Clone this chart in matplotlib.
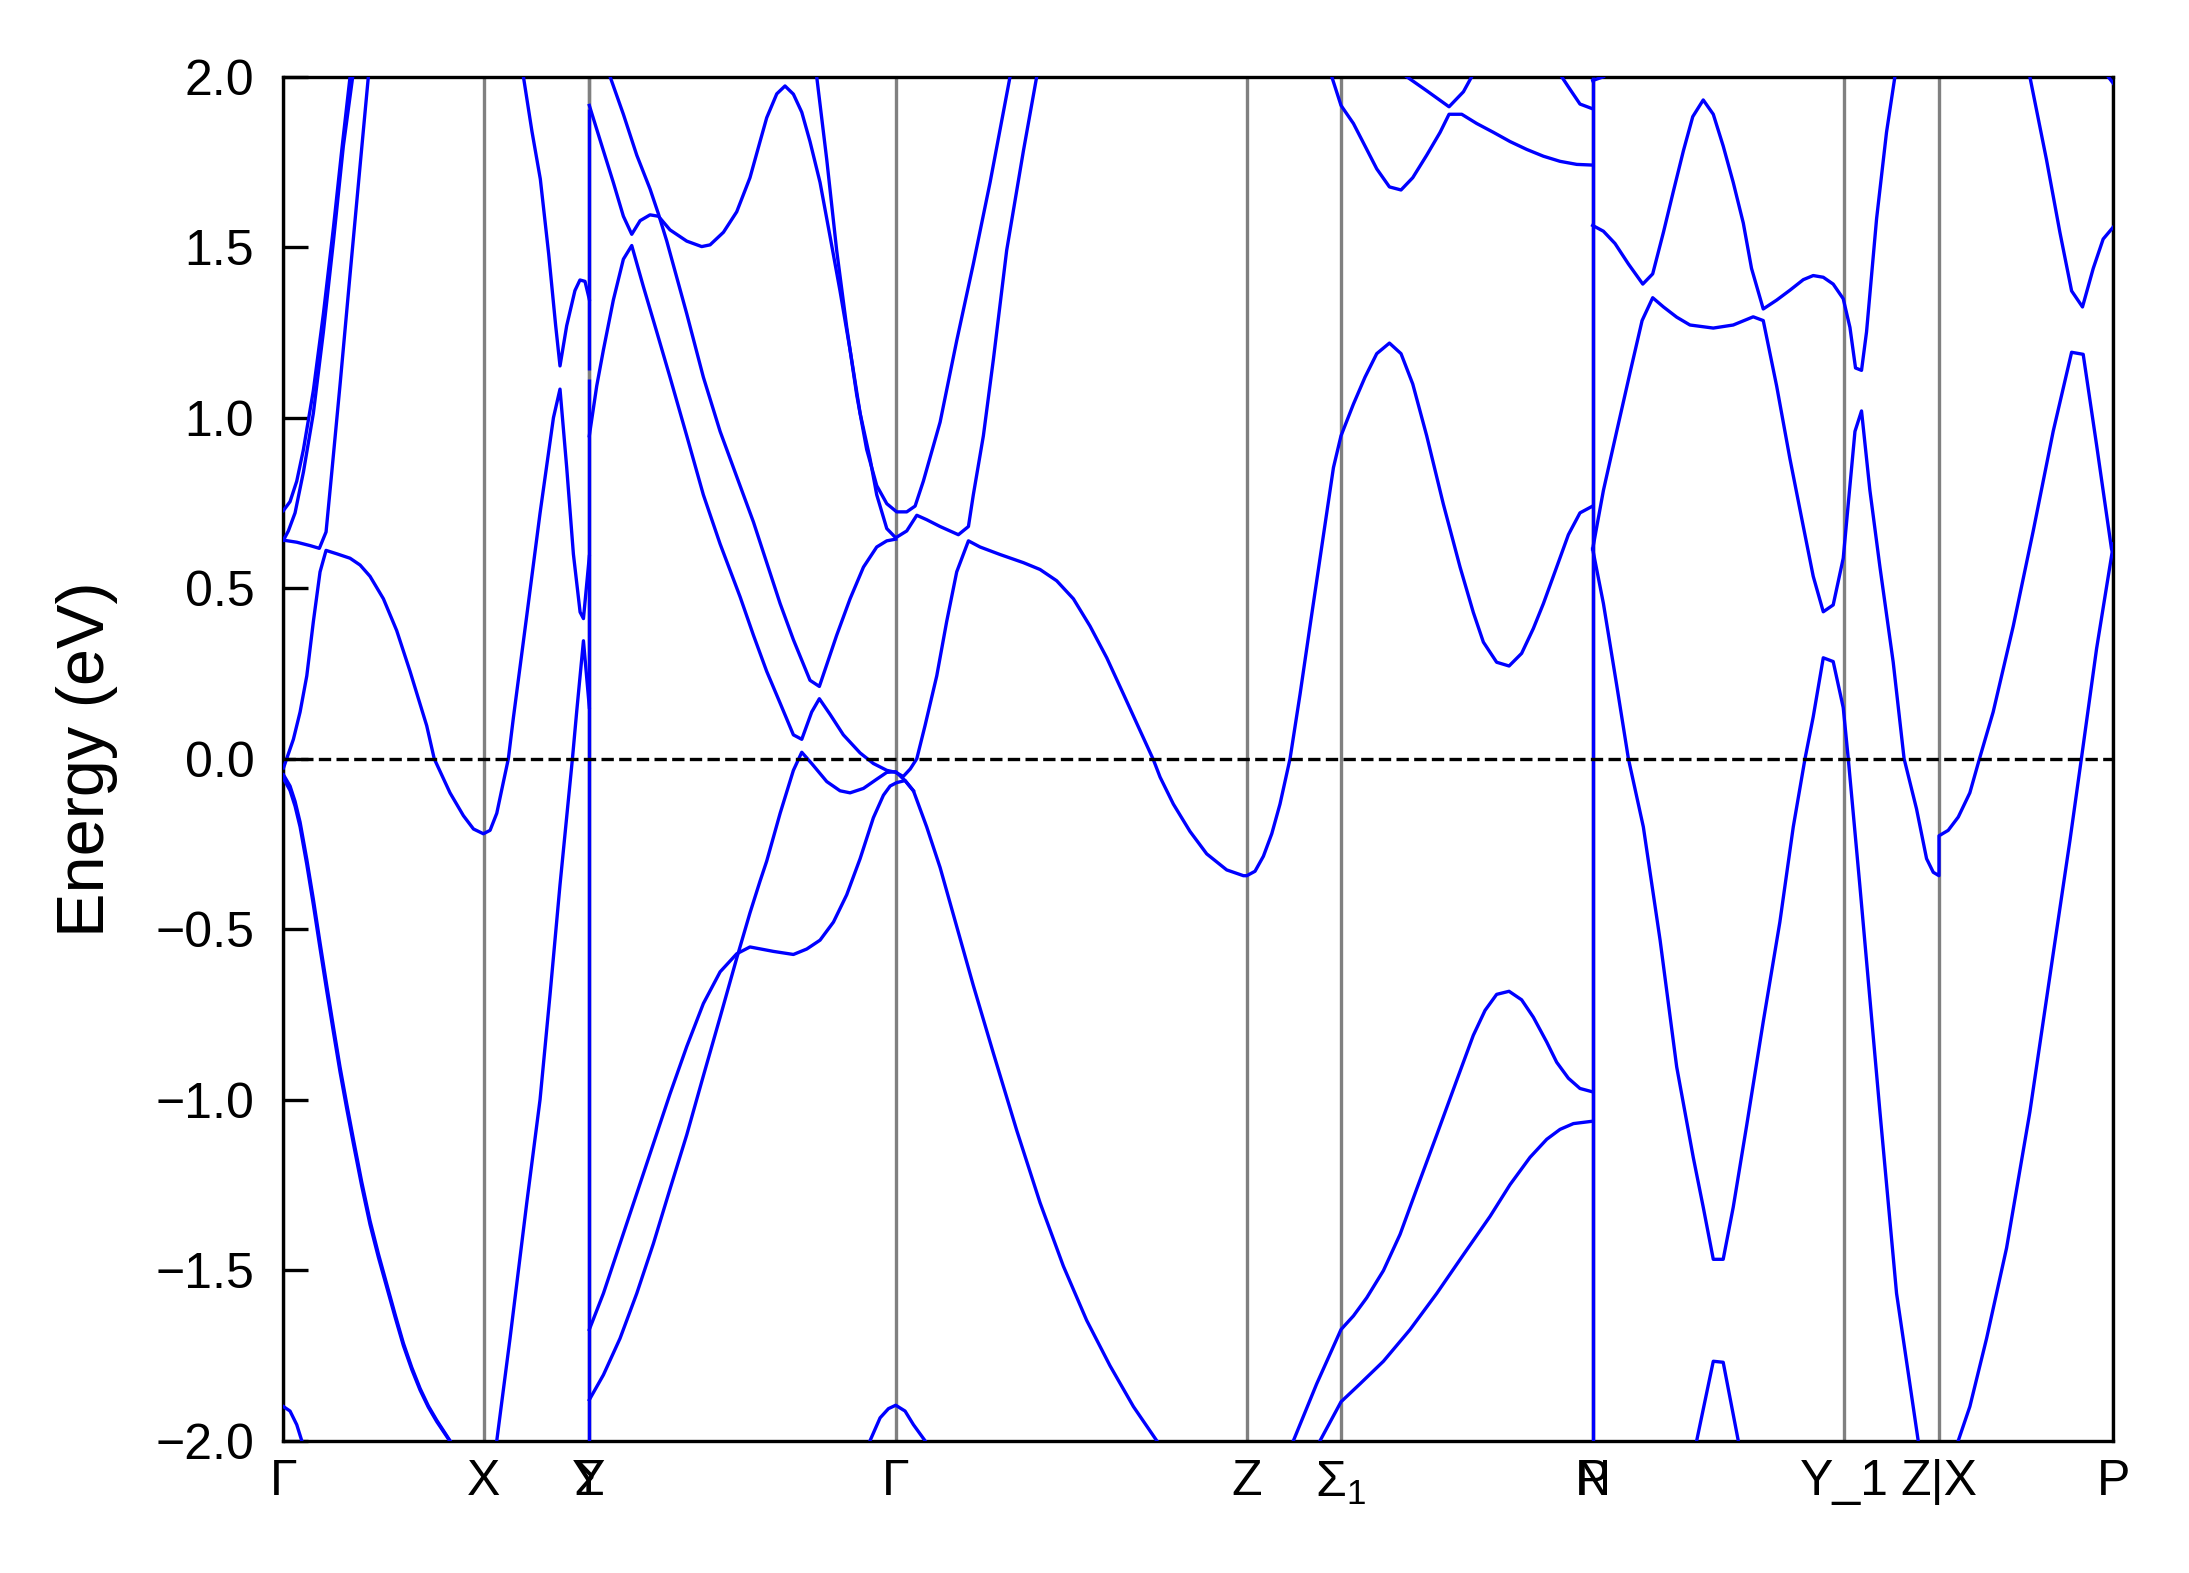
import matplotlib.pyplot as plt

plt.rcParams['font.family'] = ['Liberation Sans', 'DejaVu Sans']
plt.rcParams['mathtext.fontset'] = 'custom'
plt.rcParams['mathtext.rm'] = 'Liberation Sans'
plt.rcParams['mathtext.it'] = 'Liberation Sans:italic'

# high-symmetry points along the k-path (Y/Σ and N/P sit on the same spot)
kpoint_pos = [0.0, 0.1435, 0.2189, 0.219, 0.4386, 0.690, 0.7576, 0.9379, 0.938, 1.118, 1.186, 1.311]
kpoint_labels = ['Γ', 'X', 'Y', 'Σ', 'Γ', 'Z', 'Σ$_1$', 'N', 'P', 'Y_1', 'Z|X', 'P']

# band jumps where the path is broken (Y|Σ and N|P)
jump_k = [0.219, 0.219, 0.938]
jump_lo = [-2.0, 1.139, -2.0]
jump_hi = [1.115, 1.906, 2.0]

# bands, (k, E) pairs
band_01 = [(0.0, 0.728), (0.0047, 0.754), (0.0095, 0.814), (0.0143, 0.907), (0.0214, 1.080),
           (0.0286, 1.305), (0.0358, 1.558), (0.0417, 1.783), (0.0477, 2.0)]
band_02 = [(0.0, 0.641), (0.0035, 0.668), (0.0083, 0.721), (0.0143, 0.841), (0.0214, 1.013),
           (0.0286, 1.252), (0.0358, 1.518), (0.0429, 1.797), (0.0496, 2.0)]
band_03 = [(0.0, 0.641), (0.0095, 0.635), (0.0191, 0.625), (0.0257, 0.617), (0.0305, 0.665),
           (0.0346, 0.84), (0.0406, 1.10), (0.0477, 1.42), (0.0549, 1.74), (0.0608, 2.0)]
band_04 = [(0.0, -0.027), (0.0023, 0.0), (0.0071, 0.057), (0.0119, 0.137), (0.0167, 0.243),
           (0.0214, 0.402), (0.0262, 0.548), (0.0305, 0.611), (0.0382, 0.601), (0.0477, 0.588),
           (0.0549, 0.568), (0.0620, 0.535), (0.0716, 0.469), (0.0811, 0.376), (0.0907, 0.256),
           (0.1026, 0.097), (0.1080, 0.0), (0.1193, -0.100), (0.1289, -0.167), (0.1361, -0.206),
           (0.1432, -0.220), (0.1480, -0.210), (0.1528, -0.160), (0.1576, -0.067), (0.1611, 0.0),
           (0.1647, 0.12), (0.1743, 0.42), (0.1838, 0.72), (0.1934, 1.00), (0.1981, 1.084),
           (0.2029, 0.854), (0.2077, 0.60), (0.2125, 0.43), (0.2149, 0.411), (0.2191, 0.593)]
band_05 = [(0.0, -0.047), (0.0047, -0.080), (0.0083, -0.125), (0.0119, -0.186), (0.0167, -0.295),
           (0.0214, -0.412), (0.0262, -0.540), (0.0310, -0.665), (0.0358, -0.787), (0.0405, -0.904),
           (0.0453, -1.012), (0.0501, -1.116), (0.0560, -1.240), (0.0620, -1.355), (0.0680, -1.452),
           (0.0740, -1.541), (0.0800, -1.630), (0.0859, -1.714), (0.0919, -1.785), (0.0979, -1.847),
           (0.1038, -1.898), (0.1098, -1.940), (0.1193, -2.0)]
band_06 = [(0.0, -0.058), (0.0047, -0.093), (0.0083, -0.139), (0.0119, -0.200), (0.0167, -0.310),
           (0.0214, -0.428), (0.0262, -0.556), (0.0310, -0.681), (0.0358, -0.802), (0.0405, -0.918),
           (0.0453, -1.026), (0.0501, -1.129), (0.0560, -1.252), (0.0620, -1.366), (0.0680, -1.462),
           (0.0740, -1.550), (0.0800, -1.638), (0.0859, -1.721), (0.0919, -1.791), (0.0979, -1.852),
           (0.1038, -1.902), (0.1098, -1.944), (0.1190, -2.0)]
band_07 = [(0.0, -1.900), (0.0047, -1.913), (0.0095, -1.953), (0.0131, -2.0)]
band_08 = [(0.1719, 2.0), (0.1780, 1.84), (0.1840, 1.70), (0.1900, 1.48), (0.1950, 1.27),
           (0.1981, 1.152), (0.2029, 1.27), (0.2088, 1.373), (0.2124, 1.404), (0.2160, 1.40),
           (0.2191, 1.347)]
band_09 = [(0.1528, -2.0), (0.1623, -1.700), (0.1743, -1.302), (0.1838, -1.0), (0.1910, -0.69),
           (0.1981, -0.37), (0.2070, 0.0), (0.2101, 0.14), (0.2149, 0.346), (0.2191, 0.151)]
band_10 = [(0.2191, 1.916), (0.2292, 1.783), (0.2363, 1.690), (0.2435, 1.591), (0.2495, 1.538),
           (0.2555, 1.578), (0.2626, 1.595), (0.2686, 1.591), (0.2769, 1.551), (0.2889, 1.518),
           (0.2996, 1.502), (0.3056, 1.507), (0.3152, 1.544), (0.3247, 1.604), (0.3342, 1.704),
           (0.3414, 1.810), (0.3462, 1.880), (0.3534, 1.950), (0.3593, 1.973), (0.3653, 1.949),
           (0.3713, 1.896), (0.3772, 1.810), (0.3844, 1.690), (0.3916, 1.531), (0.3987, 1.372),
           (0.4059, 1.199), (0.4131, 1.013), (0.4202, 0.880), (0.4250, 0.774), (0.4322, 0.675),
           (0.4386, 0.648), (0.4465, 0.668), (0.4537, 0.714), (0.4608, 0.701), (0.4704, 0.681),
           (0.4835, 0.657), (0.4907, 0.681), (0.4942, 0.774), (0.5014, 0.947), (0.5086, 1.172),
           (0.5181, 1.491), (0.5301, 1.783), (0.5396, 2.0)]
band_11 = [(0.2340, 2.0), (0.2435, 1.890), (0.2531, 1.770), (0.2626, 1.671), (0.2686, 1.598),
           (0.2746, 1.518), (0.2889, 1.305), (0.3008, 1.119), (0.3128, 0.960), (0.3259, 0.814),
           (0.3367, 0.694), (0.3462, 0.575), (0.3558, 0.455), (0.3653, 0.349), (0.3772, 0.230),
           (0.3839, 0.212), (0.3892, 0.276), (0.3963, 0.362), (0.4059, 0.469), (0.4155, 0.562),
           (0.4250, 0.621), (0.4322, 0.639), (0.4386, 0.644)]
band_12 = [(0.3820, 2.0), (0.3892, 1.757), (0.3963, 1.491), (0.4035, 1.266), (0.4107, 1.066),
           (0.4178, 0.907), (0.4250, 0.801), (0.4322, 0.748), (0.4393, 0.724), (0.4465, 0.724),
           (0.4525, 0.741), (0.4584, 0.814), (0.4704, 0.987), (0.4823, 1.226), (0.4942, 1.451),
           (0.5062, 1.690), (0.5205, 2.0)]
band_13 = [(0.2191, 0.947), (0.2244, 1.093), (0.2292, 1.199), (0.2363, 1.345), (0.2435, 1.465),
           (0.2495, 1.505), (0.2578, 1.385), (0.2674, 1.252), (0.2769, 1.119), (0.2889, 0.947),
           (0.3008, 0.774), (0.3128, 0.630), (0.3271, 0.475), (0.3367, 0.362), (0.3462, 0.256),
           (0.3558, 0.163), (0.3653, 0.070), (0.3713, 0.057), (0.3784, 0.137), (0.3839, 0.176),
           (0.3916, 0.130), (0.4011, 0.070), (0.4131, 0.017), (0.4226, -0.014), (0.4322, -0.034),
           (0.4386, -0.040), (0.4440, -0.052), (0.4490, -0.030), (0.4537, 0.0), (0.4596, 0.097),
           (0.4680, 0.243), (0.4751, 0.402), (0.4823, 0.548), (0.4907, 0.639), (0.4990, 0.621),
           (0.5133, 0.599), (0.5301, 0.575), (0.5420, 0.555), (0.5539, 0.522), (0.5659, 0.469),
           (0.5778, 0.389), (0.5898, 0.296), (0.6017, 0.190), (0.6136, 0.083), (0.6232, -0.003),
           (0.6280, -0.054), (0.6375, -0.133), (0.6494, -0.213), (0.6614, -0.279), (0.6757, -0.326),
           (0.6877, -0.343), (0.6901, -0.343), (0.6960, -0.330), (0.7020, -0.286), (0.7080, -0.220),
           (0.7139, -0.133), (0.7211, 0.0), (0.7283, 0.190), (0.7354, 0.389), (0.7450, 0.655),
           (0.7522, 0.854), (0.7576, 0.947), (0.7665, 1.040), (0.7748, 1.119), (0.7832, 1.188),
           (0.7923, 1.219), (0.8006, 1.188), (0.8090, 1.099), (0.8190, 0.947), (0.8309, 0.747),
           (0.8429, 0.562), (0.8524, 0.429), (0.8596, 0.342), (0.8691, 0.283), (0.8780, 0.272),
           (0.8870, 0.309), (0.8954, 0.382), (0.9026, 0.455), (0.9121, 0.562), (0.9205, 0.657),
           (0.9288, 0.721), (0.9379, 0.741)]
band_14 = [(0.2191, -1.880), (0.2292, -1.807), (0.2411, -1.700), (0.2531, -1.568), (0.2650, -1.422),
           (0.2769, -1.262), (0.2889, -1.103), (0.3008, -0.930), (0.3128, -0.758), (0.3247, -0.585),
           (0.3342, -0.452), (0.3414, -0.359), (0.3462, -0.300), (0.3558, -0.160), (0.3653, -0.034),
           (0.3713, 0.019), (0.3784, -0.014), (0.3892, -0.067), (0.3987, -0.094), (0.4059, -0.100),
           (0.4155, -0.087), (0.4250, -0.060), (0.4322, -0.040), (0.4386, -0.038), (0.4453, -0.064),
           (0.4513, -0.094)]
band_15 = [(0.2191, -1.674), (0.2292, -1.568), (0.2411, -1.422), (0.2531, -1.275), (0.2650, -1.129),
           (0.2769, -0.983), (0.2889, -0.844), (0.3008, -0.718), (0.3128, -0.625), (0.3247, -0.572),
           (0.3342, -0.552), (0.3510, -0.565), (0.3653, -0.574), (0.3749, -0.558), (0.3844, -0.532),
           (0.3940, -0.479), (0.4035, -0.399), (0.4131, -0.293), (0.4226, -0.173), (0.4298, -0.107),
           (0.4346, -0.080), (0.4393, -0.070), (0.4453, -0.064), (0.4513, -0.094), (0.4608, -0.200),
           (0.4704, -0.319), (0.4823, -0.492), (0.4942, -0.665), (0.5086, -0.864), (0.5253, -1.090),
           (0.5420, -1.302), (0.5587, -1.488), (0.5754, -1.647), (0.5921, -1.780), (0.6089, -1.900),
           (0.6256, -2.0)]
band_16 = [(0.4202, -2.0), (0.4274, -1.933), (0.4334, -1.906), (0.4386, -1.896), (0.4453, -1.913),
           (0.4513, -1.953), (0.4596, -2.0)]
band_17 = [(0.7235, -2.0), (0.7402, -1.833), (0.7576, -1.674), (0.7665, -1.634), (0.7760, -1.581),
           (0.7880, -1.501), (0.7999, -1.395), (0.8118, -1.262), (0.8262, -1.103), (0.8405, -0.943),
           (0.8524, -0.811), (0.8608, -0.738), (0.8691, -0.691), (0.8780, -0.682), (0.8870, -0.707),
           (0.8954, -0.758), (0.9050, -0.831), (0.9121, -0.890), (0.9205, -0.937), (0.9288, -0.967),
           (0.9379, -0.977)]
band_18 = [(0.7426, -2.0), (0.7576, -1.886), (0.7713, -1.833), (0.7880, -1.767), (0.8071, -1.674),
           (0.8262, -1.568), (0.8452, -1.455), (0.8644, -1.342), (0.8787, -1.249), (0.8930, -1.169),
           (0.9050, -1.116), (0.9145, -1.087), (0.9241, -1.070), (0.9379, -1.063)]
band_19 = [(0.7510, 2.0), (0.7576, 1.916), (0.7665, 1.863), (0.7748, 1.797), (0.7832, 1.730),
           (0.7923, 1.677), (0.8006, 1.668), (0.8090, 1.704), (0.8190, 1.770), (0.8286, 1.837),
           (0.8350, 1.890), (0.8441, 1.890), (0.8548, 1.863), (0.8668, 1.837), (0.8787, 1.810),
           (0.8906, 1.787), (0.9026, 1.767), (0.9145, 1.752), (0.9265, 1.743), (0.9379, 1.741)]
band_20 = [(0.8047, 2.0), (0.8190, 1.959), (0.8350, 1.912), (0.8453, 1.956), (0.8512, 2.0)]
band_21 = [(0.9157, 2.0), (0.9217, 1.963), (0.9288, 1.920), (0.9379, 1.906)]
band_22 = [(0.9379, 1.989), (0.9456, 2.0)]
band_23 = [(0.9379, 1.564), (0.9456, 1.547), (0.9539, 1.511), (0.9635, 1.451), (0.9738, 1.392),
           (0.9809, 1.422), (0.9886, 1.544), (0.9957, 1.664), (1.0029, 1.783), (1.0096, 1.883),
           (1.0171, 1.932), (1.0243, 1.890), (1.0314, 1.797), (1.0386, 1.690), (1.0458, 1.571),
           (1.0517, 1.438), (1.0601, 1.319), (1.0697, 1.345), (1.0792, 1.374), (1.0888, 1.405),
           (1.0959, 1.417), (1.1031, 1.412), (1.1102, 1.392), (1.1174, 1.349), (1.1222, 1.265),
           (1.1262, 1.146), (1.1305, 1.139), (1.1341, 1.252), (1.1413, 1.584), (1.1484, 1.837),
           (1.1544, 2.0)]
band_24 = [(0.9379, 0.615), (0.9456, 0.787), (0.9551, 0.960), (0.9647, 1.133), (0.9733, 1.285),
           (0.9809, 1.352), (0.9886, 1.325), (0.9981, 1.295), (1.0076, 1.272), (1.0243, 1.263),
           (1.0386, 1.272), (1.0529, 1.296), (1.0601, 1.285), (1.0697, 1.093), (1.0792, 0.880),
           (1.0888, 0.681), (1.0959, 0.535), (1.1031, 0.431), (1.1102, 0.451), (1.1174, 0.588),
           (1.1258, 0.960), (1.1305, 1.020), (1.1365, 0.787), (1.1437, 0.562), (1.1532, 0.283),
           (1.1610, 0.0), (1.1699, -0.147), (1.1771, -0.293), (1.1819, -0.333), (1.1860, -0.343),
           (1.1860, -0.226), (1.1926, -0.210), (1.1998, -0.171), (1.2081, -0.100), (1.2150, 0.0),
           (1.2248, 0.137), (1.2392, 0.389), (1.2535, 0.668), (1.2678, 0.960), (1.2810, 1.192),
           (1.2893, 1.186), (1.2989, 0.920), (1.3096, 0.615), (1.311, 0.60)]
band_25 = [(0.9379, 0.615), (0.9456, 0.455), (0.9551, 0.216), (0.9635, 0.0), (0.9742, -0.200),
           (0.9862, -0.532), (0.9981, -0.904), (1.0100, -1.17), (1.0171, -1.315), (1.0243, -1.468),
           (1.0314, -1.468), (1.0386, -1.315), (1.0482, -1.076), (1.0601, -0.771), (1.0720, -0.479),
           (1.0816, -0.200), (1.0900, 0.0), (1.0959, 0.123), (1.1031, 0.296), (1.1102, 0.285),
           (1.1174, 0.150), (1.1210, 0.0), (1.1293, -0.372), (1.1437, -1.036), (1.1556, -1.568),
           (1.1711, -2.0)]
band_26 = [(1.0124, -2.0), (1.0243, -1.767), (1.0314, -1.770), (1.0422, -2.0)]
band_27 = [(1.1998, -2.0), (1.2081, -1.900), (1.2201, -1.700), (1.2344, -1.435), (1.2511, -1.036),
           (1.2678, -0.572), (1.2798, -0.240), (1.2880, 0.0), (1.2989, 0.323), (1.311, 0.63)]
band_28 = [(1.2511, 2.0), (1.2630, 1.757), (1.2726, 1.544), (1.2810, 1.372), (1.2888, 1.325),
           (1.2965, 1.438), (1.3036, 1.524), (1.311, 1.56)]
band_29 = [(1.3072, 2.0), (1.311, 1.98)]

bands = [band_01, band_02, band_03, band_04, band_05, band_06, band_07, band_08, band_09, band_10,
         band_11, band_12, band_13, band_14, band_15, band_16, band_17, band_18, band_19, band_20,
         band_21, band_22, band_23, band_24, band_25, band_26, band_27, band_28, band_29]

fig = plt.figure(figsize=(2189 / 300, 1573 / 300), dpi=300)
ax = fig.add_axes([0.1295, 0.0841, 0.836, 0.8671])

# high-symmetry lines
for x in kpoint_pos:
    ax.axvline(x, color='gray', lw=0.8, zorder=1)

# bands
for b in bands:
    k, e = zip(*b)
    ax.plot(k, e, color='blue', lw=0.8, zorder=3)
ax.vlines(jump_k, jump_lo, jump_hi, color='blue', lw=0.8, zorder=3)

# Fermi level
ax.axhline(0, color='black', ls='--', lw=0.8, zorder=4)

ax.set_xlim(0, 1.311)
ax.set_ylim(-2, 2)
ax.set_xticks(kpoint_pos)
ax.set_xticklabels(kpoint_labels)
ax.set_ylabel('Energy (eV)', fontsize=16, labelpad=9)
ax.tick_params(axis='y', direction='in', length=6, width=0.8, labelsize=12, pad=7)
ax.tick_params(axis='x', length=0, labelsize=12, pad=4.5)

fig.savefig('out.png', dpi=300)
